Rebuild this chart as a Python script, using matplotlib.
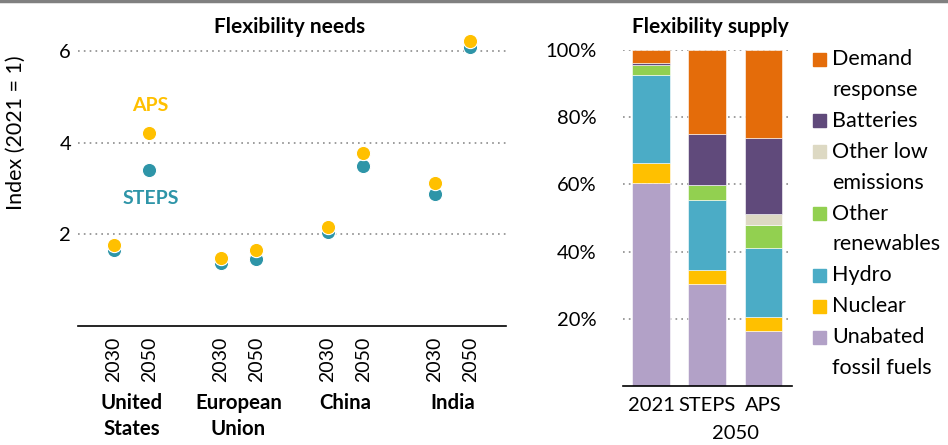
import numpy as np
from matplotlib import pyplot as plt
from matplotlib.lines import Line2D
from matplotlib.patches import Rectangle

plt.rcParams['font.family'] = ['Lato', 'DejaVu Sans']
plt.rcParams['font.size'] = 14

# flexibility needs (index, 2021 = 1)
regions = ['United\nStates', 'European\nUnion', 'China', 'India']
years = ['2030', '2050']
steps = [1.65, 3.41, 1.38, 1.47, 2.04, 3.49, 2.87, 6.08]
aps = [1.76, 4.20, 1.49, 1.66, 2.15, 3.77, 3.11, 6.21]

# flexibility supply (share, %)
bars = ['2021', 'STEPS', 'APS']
sources = ['Unabated\nfossil fuels', 'Nuclear', 'Hydro', 'Other\nrenewables',
           'Other low\nemissions', 'Batteries', 'Demand\nresponse']
shares = {
    'Unabated\nfossil fuels': [60.4, 30.4, 16.3],
    'Nuclear': [6.1, 4.0, 4.3],
    'Hydro': [26.2, 21.1, 20.6],
    'Other\nrenewables': [2.9, 4.3, 6.8],
    'Other low\nemissions': [0.0, 0.0, 3.2],
    'Batteries': [0.5, 15.1, 22.5],
    'Demand\nresponse': [3.9, 25.1, 26.3],
}
colors = ['#B2A1C7', '#FFC000', '#4BACC6', '#92D050', '#DDD9C3', '#604A7B', '#E46C0A']

teal = '#2E95A8'
yellow = '#FFC000'

W, H = 948, 445
fig = plt.figure(figsize=(W/100, H/100), dpi=100)

# ---- left panel
ax = fig.add_axes([0.0823, 0.2674, 0.4515, 0.6697])
x = []
for g in range(len(regions)):
    x += [3*g, 3*g + 1]
x = np.array(x)

for yv in [2, 4, 6]:
    ax.axhline(yv, color='#8c8c8c', lw=1.2, ls=(0, (1, 2.5)), zorder=1)
ax.scatter(x, steps, s=105, color=teal, edgecolor='white', lw=0.8, zorder=3, clip_on=False)
ax.scatter(x, aps, s=105, color=yellow, edgecolor='white', lw=0.8, zorder=4, clip_on=False)

ax.set_xlim(-1, 11)
ax.set_ylim(0, 6.5)
ax.set_yticks([2, 4, 6])
ax.set_xticks(x)
ax.set_xticklabels(years * len(regions), rotation=90)
ax.tick_params(length=0, pad=8)
ax.tick_params(axis='y', pad=5, labelsize=14.5)
for s in ['top', 'right', 'left']:
    ax.spines[s].set_visible(False)
ax.spines['bottom'].set_linewidth(1.2)
ax.set_ylabel('Index (2021 = 1)', fontsize=15.5)
ax.yaxis.set_label_coords(-0.122, 0.65)

for g, name in enumerate(regions):
    ax.text(3*g + 0.5, -0.225, name, transform=ax.get_xaxis_transform(),
            ha='center', va='top', fontweight='bold', fontsize=14.7, linespacing=1.35)

ax.text(1.02, 4.80, 'APS', color=yellow, fontweight='bold', ha='center', va='center')
ax.text(1.04, 2.78, 'STEPS', color=teal, fontweight='bold', ha='center', va='center')

fig.text(290/W, 1 - 27/H, 'Flexibility needs', fontweight='bold',
         ha='center', va='center', fontsize=15)

# ---- right panel
ax2 = fig.add_axes([0.657, 0.1326, 0.178, 0.755])
pos = np.arange(len(bars))
for yv in [20, 40, 60, 80, 100]:
    ax2.axhline(yv, color='#8c8c8c', lw=1.2, ls=(0, (1, 2.5)), zorder=1)
bottom = np.zeros(len(bars))
for name, c in zip(sources, colors):
    vals = np.array(shares[name])
    ax2.bar(pos, vals, 0.67, bottom=bottom, color=c, edgecolor='white', lw=0.4, zorder=2)
    bottom += vals

ax2.set_xlim(-0.5, 2.5)
ax2.set_ylim(0, 100)
ax2.set_yticks([20, 40, 60, 80, 100])
ax2.set_yticklabels(['20%', '40%', '60%', '80%', '100%'])
ax2.set_xticks(pos)
ax2.set_xticklabels(bars)
ax2.tick_params(length=0, pad=8, labelsize=14.5)
ax2.tick_params(axis='y', pad=19)
for s in ['top', 'right', 'left']:
    ax2.spines[s].set_visible(False)
ax2.spines['bottom'].set_linewidth(1.2)
ax2.text(1.5, -0.115, '2050', transform=ax2.get_xaxis_transform(), ha='center', va='top',
         fontsize=14.5)

fig.text(710/W, 1 - 27/H, 'Flexibility supply', fontweight='bold',
         ha='center', va='center', fontsize=15)

# legend, drawn by hand so the line spacing can follow the reference
line_y = 59
step = 30.9
for name, c in zip(sources[::-1], colors[::-1]):
    fig.add_artist(Rectangle((813/W, 1 - (line_y + 6.5)/H), 13/W, 13/H,
                             color=c, transform=fig.transFigure))
    for ln in name.split('\n'):
        fig.text(832/W, 1 - line_y/H, ln, ha='left', va='center', fontsize=15.5)
        line_y += step

fig.add_artist(Line2D([0, 1], [0.997, 0.997], color='#808080', lw=2.5, transform=fig.transFigure))

plt.savefig('out.png', dpi=100)
